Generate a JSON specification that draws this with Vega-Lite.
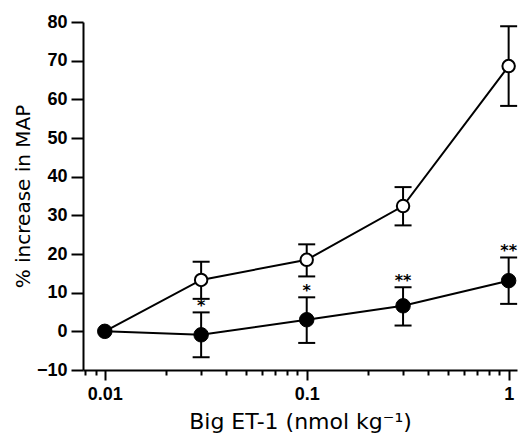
{
  "$schema": "https://vega.github.io/schema/vega-lite/v6.json",
  "width": 434,
  "height": 348,
  "autosize": {"type": "none"},
  "padding": {"left": 83, "top": 22, "right": 1, "bottom": 67},
  "background": "white",
  "config": {
    "view": {"stroke": null},
    "font": "Liberation Sans",
    "axis": {
      "grid": false,
      "domainColor": "black",
      "domainWidth": 2,
      "tickColor": "black",
      "tickWidth": 2,
      "labelColor": "black",
      "titleColor": "black",
      "labelFont": "Liberation Sans",
      "titleFont": "DejaVu Sans",
      "labelFontWeight": "bold",
      "titleFontWeight": "normal",
      "labelFontSize": 18,
      "titleFontSize": 20,
      "labelOverlap": false
    }
  },
  "data": {
    "values": [
      {"dose": 0.01, "group": "open", "mean": 0, "lo": null, "hi": null, "sig": ""},
      {"dose": 0.03, "group": "open", "mean": 13.3, "lo": 8.4, "hi": 18.0, "sig": ""},
      {"dose": 0.1, "group": "open", "mean": 18.5, "lo": 14.2, "hi": 22.5, "sig": ""},
      {"dose": 0.3, "group": "open", "mean": 32.4, "lo": 27.4, "hi": 37.3, "sig": ""},
      {"dose": 1, "group": "open", "mean": 68.6, "lo": 58.3, "hi": 78.9, "sig": ""},
      {"dose": 0.01, "group": "filled", "mean": 0, "lo": null, "hi": null, "sig": ""},
      {"dose": 0.03, "group": "filled", "mean": -0.9, "lo": -6.7, "hi": 4.9, "sig": "*"},
      {"dose": 0.1, "group": "filled", "mean": 3.0, "lo": -3.0, "hi": 8.8, "sig": "*"},
      {"dose": 0.3, "group": "filled", "mean": 6.6, "lo": 1.5, "hi": 11.4, "sig": "**"},
      {"dose": 1, "group": "filled", "mean": 13.1, "lo": 7.1, "hi": 19.1, "sig": "**"}
    ]
  },
  "encoding": {
    "x": {
      "field": "dose",
      "type": "quantitative",
      "scale": {"type": "log", "domain": [0.0078, 1.1], "nice": false},
      "axis": {
        "title": "Big ET-1 (nmol kg⁻¹)",
        "titleFontSize": 22,
        "values": [0.008, 0.009, 0.01, 0.02, 0.03, 0.04, 0.05, 0.06, 0.07, 0.08, 0.09, 0.1, 0.2, 0.3, 0.4, 0.5, 0.6, 0.7, 0.8, 0.9, 1],
        "labelExpr": "datum.value == 0.01 ? '0.01' : datum.value == 0.1 ? '0.1' : datum.value == 1 ? '1' : ''",
        "tickSize": {"condition": {"test": "datum.value == 0.01 || datum.value == 0.1 || datum.value == 1", "value": 10}, "value": 5},
        "labelOverlap": false,
        "labelFlush": false,
        "labelPadding": 5,
        "titlePadding": 8
      }
    },
    "y": {
      "field": "mean",
      "type": "quantitative",
      "scale": {"domain": [-10, 80], "nice": false},
      "axis": {
        "title": "% increase in MAP",
        "values": [-10, 0, 10, 20, 30, 40, 50, 60, 70, 80],
        "tickSize": 12,
        "labelOverlap": false,
        "labelPadding": 4,
        "titlePadding": 3
      }
    }
  },
  "layer": [
    {
      "mark": {"type": "line", "color": "black", "strokeWidth": 2},
      "encoding": {
        "detail": {"field": "group"}
      }
    },
    {
      "transform": [{"filter": "datum.hi != null"}],
      "mark": {"type": "rule", "color": "black", "strokeWidth": 2},
      "encoding": {
        "y": {"field": "lo", "type": "quantitative"},
        "y2": {"field": "hi"}
      }
    },
    {
      "transform": [{"filter": "datum.hi != null"}],
      "mark": {"type": "tick", "color": "black", "orient": "horizontal", "size": 17, "thickness": 2, "opacity": 1},
      "encoding": {"y": {"field": "hi", "type": "quantitative"}}
    },
    {
      "transform": [{"filter": "datum.hi != null"}],
      "mark": {"type": "tick", "color": "black", "orient": "horizontal", "size": 17, "thickness": 2, "opacity": 1},
      "encoding": {"y": {"field": "lo", "type": "quantitative"}}
    },
    {
      "transform": [{"filter": "datum.group == 'open' && datum.dose > 0.01"}],
      "mark": {"type": "point", "shape": "circle", "filled": false, "fill": "white", "fillOpacity": 1, "stroke": "black", "strokeWidth": 2, "size": 155, "opacity": 1}
    },
    {
      "transform": [{"filter": "datum.group == 'filled'"}],
      "mark": {"type": "point", "shape": "circle", "filled": true, "fill": "black", "stroke": "black", "strokeWidth": 1, "size": 210, "opacity": 1}
    },
    {
      "transform": [{"filter": "datum.sig != ''"}],
      "mark": {"type": "text", "color": "black", "font": "DejaVu Sans", "fontWeight": "bold", "fontSize": 16, "baseline": "alphabetic", "dy": -1},
      "encoding": {
        "y": {"field": "hi", "type": "quantitative"},
        "text": {"field": "sig"}
      }
    }
  ]
}
